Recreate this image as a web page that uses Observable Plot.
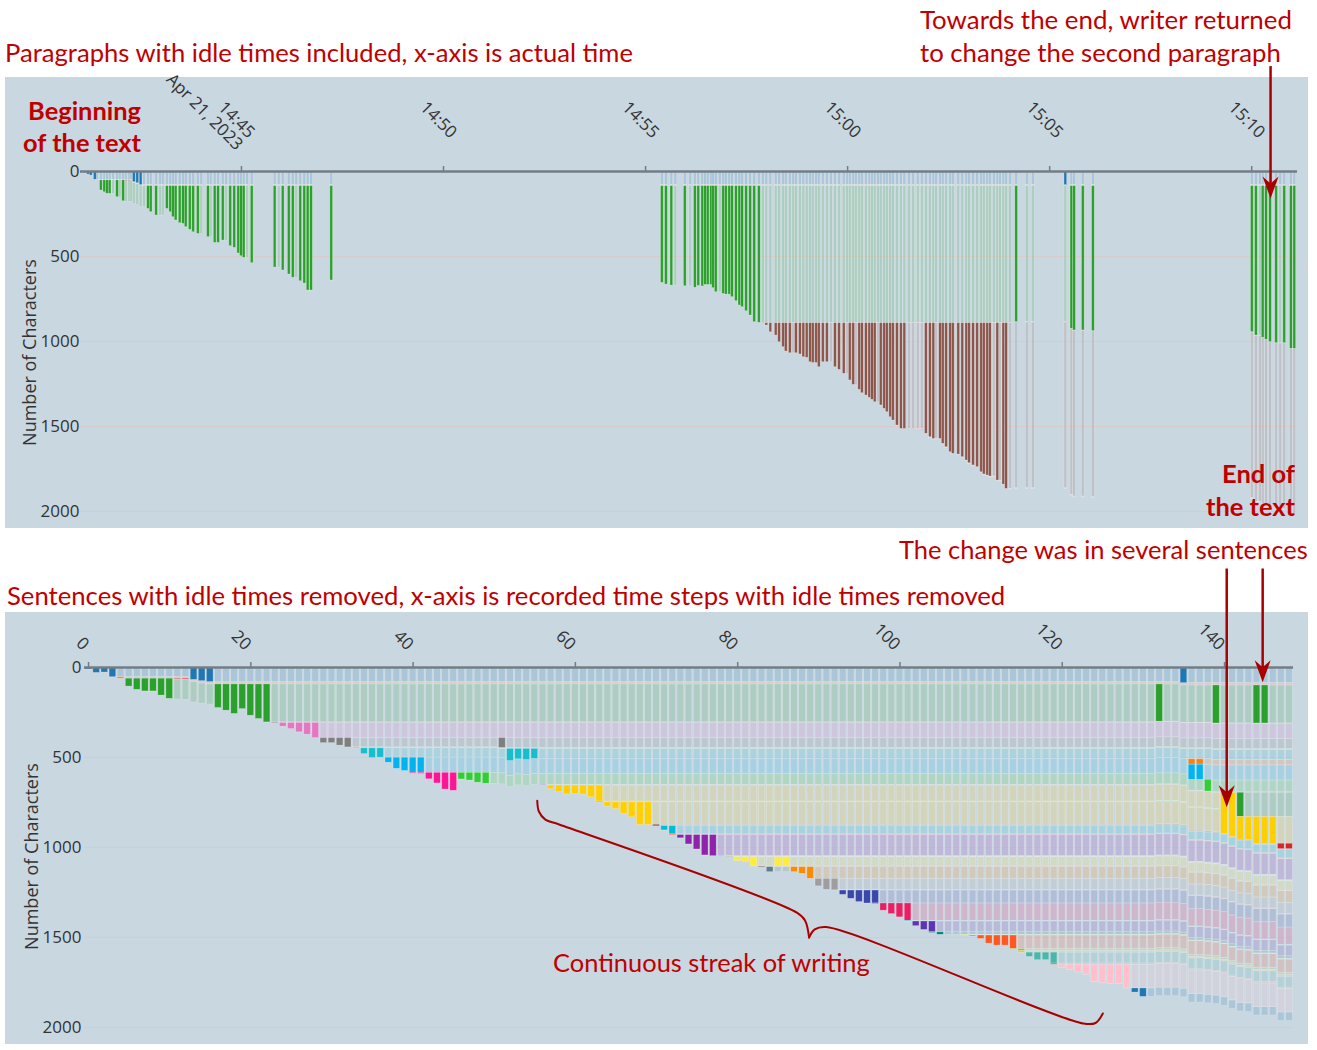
<!DOCTYPE html>
<html>
<head>
<meta charset="utf-8">
<script src="https://cdn.jsdelivr.net/npm/d3@7"></script>
<script src="https://cdn.jsdelivr.net/npm/@observablehq/plot@0.6"></script>
<style>
  body { margin: 0; background: #ffffff; }
  #page { position: relative; width: 1317px; height: 1050px; overflow: hidden; background: #fff; font-family: "Open Sans", sans-serif; }
  .panel { position: absolute; background: #c9d7e1; }
  .chart { position: absolute; }
  .chart svg { overflow: visible; }
  .note { position: absolute; color: #c00000; font-family: Lato, "Open Sans", sans-serif; font-size: 24px; line-height: 1.2; white-space: nowrap; }
  .note.b { font-weight: bold; }
</style>
</head>
<body>
<div id="page">
  <div class="panel" style="left:5px;top:77px;width:1303px;height:451px"></div>
  <div class="panel" style="left:5px;top:612px;width:1303px;height:432px"></div>
  <div class="chart" id="topChart" style="left:5px;top:77px;width:1303px"></div>
  <div class="chart" id="botChart" style="left:5px;top:612px;width:1303px"></div>

  <div class="note" data-x="5" data-cy="52" data-w="628">Paragraphs with idle times included, x-axis is actual time</div>
  <div class="note" data-x="920" data-cy="20" data-w="372">Towards the end, writer returned</div>
  <div class="note" data-x="920" data-cy="52" data-w="361">to change the second paragraph</div>
  <div class="note b" data-r="141" data-cy="110" data-w="113">Beginning</div>
  <div class="note b" data-r="141" data-cy="142" data-w="118">of the text</div>
  <div class="note b" data-r="1295" data-cy="473" data-w="73">End of</div>
  <div class="note b" data-r="1295" data-cy="506" data-w="89">the text</div>
  <div class="note" data-x="899" data-cy="549" data-w="409">The change was in several sentences</div>
  <div class="note" data-x="7" data-cy="595" data-w="999">Sentences with idle times removed, x-axis is recorded time steps with idle times removed</div>
  <div class="note" data-x="553" data-cy="962" data-w="317">Continuous streak of writing</div>
</div>

<script>
// ---------------- DATA ----------------
const yTicks = [0, 500, 1000, 1500, 2000];
const yLabel = "Number of Characters";

// Top panel: paragraphs (in text order) and their colours
const topBlockNames = ["title", "p-orange", "p-red", "paragraph 2", "p-purple", "paragraph 3", "p-pink", "p-gray"];
const topBlockColors = ["#1f77b4", "#ff7f0e", "#d62728", "#2ca02c", "#9467bd", "#8c564b", "#e377c2", "#7f7f7f"];

// Top panel x ticks
const topTickTimes = ["14:45", "14:50", "14:55", "15:00", "15:05", "15:10"];
const topTickLabels = ["14:45\nApr 21, 2023", "14:50", "14:55", "15:00", "15:05", "15:10"];
const topDomain = ["14:41:01", "15:11:08"];

// Top panel steps: [time, paragraph edited (null = no edit), paragraph length after the step]
const topSteps = [
  ["14:41:07",0,8],["14:41:13",0,18],["14:41:17",0,24],["14:41:23",0,49],["14:41:26",1,3],
  ["14:41:32",3,60],["14:41:37",3,70],["14:41:41",3,79],["14:41:45",3,79],["14:41:50",null,0],
  ["14:41:56",3,99],["14:42:00",null,0],["14:42:05",3,123],["14:42:09",2,3],["14:42:14",2,3],
  ["14:42:17",null,0],["14:42:21",0,63],["14:42:26",0,69],["14:42:31",0,80],["14:42:36",null,0],
  ["14:42:42",3,134],["14:42:46",3,153],["14:42:54",3,173],["14:43:00",null,0],["14:43:04",null,0],
  ["14:43:10",3,134],["14:43:15",3,153],["14:43:19",3,183],["14:43:23",3,202],["14:43:29",3,218],
  ["14:43:34",3,222],["14:43:38",3,241],["14:43:44",3,257],["14:43:49",3,271],["14:43:56",3,281],
  ["14:44:01",null,0],["14:44:11",3,300],["14:44:15",null,0],["14:44:21",3,334],["14:44:26",3,334],
  ["14:44:33",3,320],["14:44:38",null,0],["14:44:44",3,353],["14:44:50",3,363],["14:44:56",3,396],
  ["14:45:00",3,412],["14:45:04",3,422],["14:45:09",null,0],["14:45:16",3,453],
  ["14:45:50",3,479],["14:45:56",null,0],["14:46:02",3,496],["14:46:11",3,520],["14:46:17",3,539],
  ["14:46:22",null,0],["14:46:28",3,559],["14:46:34",3,573],["14:46:39",3,614],["14:46:44",3,614],
  ["14:47:14",3,555],
  ["14:55:25",3,569],["14:55:31",3,579],["14:55:39",3,585],["14:55:45",null,0],["14:55:59",3,589],
  ["14:56:07",null,0],["14:56:14",3,598],["14:56:19",3,587],["14:56:25",3,590],["14:56:29",3,581],
  ["14:56:33",3,581],["14:56:38",3,581],["14:56:41",3,600],["14:56:45",3,624],["14:56:51",null,0],
  ["14:56:56",3,634],["14:57:00",3,638],["14:57:05",3,638],["14:57:09",3,653],["14:57:15",3,677],
  ["14:57:20",3,702],["14:57:24",3,712],["14:57:30",3,736],["14:57:36",3,761],["14:57:42",3,800],
  ["14:57:49",3,804],
  ["14:57:55",4,2],["14:58:00",5,14],["14:58:06",5,53],["14:58:14",5,73],["14:58:19",5,112],
  ["14:58:25",5,141],["14:58:29",5,167],["14:58:35",5,177],["14:58:40",null,0],["14:58:44",5,177],
  ["14:58:50",5,184],["14:58:55",5,200],["14:59:00",5,204],["14:59:05",5,230],["14:59:09",5,234],
  ["14:59:14",5,234],["14:59:18",5,259],["14:59:24",5,230],["14:59:30",5,230],["14:59:36",null,0],
  ["14:59:42",5,259],["14:59:48",5,275],["14:59:55",5,298],["15:00:00",null,0],["15:00:04",5,337],
  ["15:00:09",5,363],["15:00:13",null,0],["15:00:18",5,392],["15:00:22",5,412],["15:00:28",5,426],
  ["15:00:33",5,439],["15:00:37",5,451],["15:00:41",5,465],["15:00:46",null,0],["15:00:50",5,484],
  ["15:00:55",5,504],["15:00:59",5,524],["15:01:04",5,553],["15:01:08",5,573],["15:01:14",5,602],
  ["15:01:20",5,622],["15:01:25",5,622],["15:01:32",null,0],["15:01:38",null,0],["15:01:45",6,3],
  ["15:01:51",7,3],["15:01:57",5,651],["15:02:03",5,671],["15:02:08",5,681],["15:02:12",null,0],
  ["15:02:18",5,681],["15:02:22",5,710],["15:02:27",5,730],["15:02:33",5,759],["15:02:37",5,769],
  ["15:02:45",5,773],["15:02:51",5,788],["15:02:57",5,808],["15:03:01",5,824],["15:03:07",5,837],
  ["15:03:13",5,847],["15:03:19",5,877],["15:03:23",5,890],["15:03:28",5,896],["15:03:32",5,902],
  ["15:03:38",null,0],["15:03:43",5,926],["15:03:47",null,0],["15:03:52",5,950],["15:03:56",5,975],
  ["15:04:02",null,0],["15:04:11",3,800],["15:04:27",null,0],["15:04:36",null,0],
  ["15:05:24",0,80],["15:05:33",3,839],["15:05:37",3,849],["15:05:50",3,849],["15:06:05",3,853],
  ["15:10:01",3,859],["15:10:07",3,879],["15:10:13",null,0],["15:10:17",3,892],["15:10:22",3,904],
  ["15:10:28",3,918],["15:10:37",3,924],["15:10:43",null,0],["15:10:49",3,924],["15:10:59",3,957],
  ["15:11:04",3,957]
];

// Bottom panel: sentences (in text order) and colours
const botSentenceColors = [
  "#1f77b4", "#ff7f0e", "#d62728", "#2ca02c", "#8c564b", "#e377c2", "#7f7f7f", "#bcbd22",
  "#17becf", "#ff7f0e", "#00b4f0", "#ff1493", "#32cd32", "#9467bd", "#2ca02c", "#ffd000",
  "#d62728", "#00e676", "#ffd000", "#7b0000", "#00bcd4", "#f4511e", "#8e24aa", "#42a5f5",
  "#4caf50", "#ffeb3b", "#5d4037", "#607d8b", "#fb8c00", "#9e9e9e", "#f44336", "#3949ab",
  "#e91e63", "#00bcd4", "#5e35b1", "#00897b", "#cddc39", "#ff5722", "#8bc34a", "#ffc107",
  "#4db6ac", "#f44336", "#ffc0cb", "#1f77b4"
];
const botTicks = [0, 20, 40, 60, 80, 100, 120, 140];
const botDomain = [-0.5, 148.5];

// Bottom panel steps (index = recorded step): list of [sentence edited, sentence length after the step]
const botSteps = [
  [[0,11]],[[0,30]],[[0,28]],[[0,54]],[[1,8]],[[3,44]],[[3,62]],[[3,71]],[[3,71]],[[3,94]],
  [[3,112]],[[2,4]],[[2,5]],[[0,69]],[[0,76]],[[0,81]],[[3,131]],[[3,146]],[[3,164]],[[3,137]],
  [[3,174]],[[3,192]],[[3,211]],[[4,3]],[[5,21]],[[5,34]],[[5,52]],[[5,65]],[[5,84]],[[6,28]],
  [[6,28]],[[6,42]],[[6,52]],[[7,5]],[[8,32]],[[8,54]],[[8,52]],[[10,28]],[[10,62]],[[10,74]],
  [[10,84],[11,5]],[[10,84],[11,6]],[[11,36]],[[11,59]],[[11,93]],[[11,100]],[[11,0],[12,37]],[[12,43]],[[12,55]],[[12,61]],
  [],[[6,55]],[[8,68]],[[8,58]],[[8,62]],[[8,56]],[[13,3]],[[15,20]],[[15,37]],[[15,50]],
  [[15,48]],[[15,50]],[[15,65]],[[15,89],[17,4]],[[18,24]],[[18,37]],[[18,65]],[[18,83]],[[18,126]],[[18,126]],
  [[19,6]],[[20,24]],[[20,46],[21,4]],[[22,18]],[[22,52]],[[22,80]],[[22,113]],[[22,117]],[[23,3]],[[24,3]],
  [[25,21]],[[25,24]],[[25,52]],[[26,3]],[[27,28]],[[25,52]],[[25,52]],[[27,0],[28,28]],[[28,37]],[[28,65]],
  [[29,42]],[[29,61]],[[29,61],[30,4]],[[31,24]],[[31,46]],[[31,64]],[[31,72]],[[31,72],[32,4]],[[32,40]],[[32,59]],
  [[32,77]],[[32,96],[33,4]],[[34,26]],[[34,47]],[[34,60],[35,4]],[[35,14]],[],[],[[36,4]],[[37,5]],
  [[37,19]],[[37,45]],[[37,56]],[[37,56]],[[37,75],[38,4]],[[38,12],[39,8]],[[40,24]],[[40,42]],[[40,42]],[[40,61],[41,6]],
  [[42,19]],[[42,28]],[[42,43]],[[42,56]],[[42,95]],[[42,102]],[[42,108]],[[42,108]],[[42,132]],[[43,23]],
  [[43,47]],[],[[3,207]],[],[],[[0,87]],[[9,30],[10,84]],[[9,30],[10,84]],[[12,65]],[[3,211]],
  [[15,228],[17,0],[18,0]],[[15,246]],[[14,134],[15,126]],[[15,129]],[[3,211],[15,149]],[[3,211],[15,149]],[[15,149]],[[16,30]],[[16,30]]
];

// Annotations (data coordinates): arrows from above the panel down to their tip
const annoColor = "#a80000";
const topArrows = [{time: "15:10:28", from: -620, to: 159}];
const botArrows = [{step: 140.27, from: -550, to: 776}, {step: 144.7, from: -550, to: 82}];
const braceLeft  = [[55.3,740],[55.5,800],[56.3,845],[58.0,872],[87.3,1362],[88.3,1405],[88.8,1500]];
const braceRight = [[88.8,1500],[89.5,1455],[90.9,1442],[122.6,1978],[124.1,1975],[125.0,1922]];

// ---------------- BUILD ----------------
(function () {
const T = s => new Date(`2023-04-21T${s.length === 5 ? s + ":00" : s}Z`);

function buildStacks(rows, nBlocks, colors) {
  const len = new Array(nBlocks).fill(0);
  const faded = [], solid = [];
  rows.forEach(r => {
    for (const [b, l] of r.changes) len[b] = l;
    let off = 0;
    const offs = [];
    for (let b = 0; b < nBlocks; b++) {
      offs[b] = off;
      if (len[b] > 0) faded.push({key: r.key, y1: off, y2: off + len[b], color: colors[b]});
      off += len[b];
    }
    for (const [b, l] of r.changes) if (l > 0) solid.push({key: r.key, y1: offs[b], y2: offs[b] + l, color: colors[b]});
  });
  return {faded, solid};
}

const topRows = topSteps.map(([t, b, l]) => ({key: T(t), changes: b == null ? [] : [[b, l]]}));
const topStack = buildStacks(topRows, topBlockNames.length, topBlockColors);
const botRows = botSteps.map((c, i) => ({key: i, changes: c}));
const botStack = buildStacks(botRows, botSentenceColors.length, botSentenceColors);

const axisFont = "Open Sans";
const tickFont = 17;
const fadedOpts = {fillOpacity: 0.17, stroke: "#ffffff", strokeOpacity: 0.3, strokeWidth: 0.6};
const solidOpts = {stroke: "#eef2f5", strokeOpacity: 0.45, strokeWidth: 0.6};

// notched arrowhead pointing down, tip at the anchor point
const arrowHead = {
  draw(ctx) {
    ctx.moveTo(0, 0);
    ctx.lineTo(-8, -22);
    ctx.lineTo(0, -15);
    ctx.lineTo(8, -22);
    ctx.closePath();
  }
};
const headOpts = {symbol: arrowHead, r: 8, fill: annoColor, stroke: "none"};

const HALF = 2000; // ms half-width of a top bar
const topX1 = d => new Date(+d.key - HALF), topX2 = d => new Date(+d.key + HALF);

const topPlot = Plot.plot({
  width: 1303, height: 451,
  marginTop: 94, marginBottom: 17, marginLeft: 75, marginRight: 11,
  style: {background: "transparent", overflow: "visible", fontFamily: axisFont, fontSize: "16px", color: "#333"},
  x: {type: "utc", domain: topDomain.map(T)},
  y: {domain: [0, 2000], reverse: true},
  color: {type: "identity"},
  marks: [
    Plot.gridY(yTicks.slice(1), {stroke: "#d9cbcc", strokeOpacity: 1}),
    Plot.rect(topStack.faded, {x1: topX1, x2: topX2, y1: "y1", y2: "y2", fill: "color", ...fadedOpts}),
    Plot.rect(topStack.solid, {x1: topX1, x2: topX2, y1: "y1", y2: "y2", fill: "color", ...solidOpts}),
    Plot.ruleY([0], {stroke: "#737d86", strokeWidth: 2.5}),
    Plot.axisX({anchor: "top", ticks: topTickTimes.map(T), tickSize: 6, stroke: "#737d86", strokeWidth: 1.5, tickFormat: () => "", label: null}),
    Plot.text(topTickTimes.map(T), {x: d => d, text: (d, i) => topTickLabels[i], frameAnchor: "top", rotate: 45, textAnchor: "end", lineAnchor: "top", dx: 15, dy: -41, fontSize: tickFont, fill: "#333"}),
    Plot.axisY({ticks: yTicks, tickSize: 0, tickPadding: 1, tickFormat: d => String(d), label: null, fontSize: tickFont}),
    Plot.text([yLabel], {frameAnchor: "left", textAnchor: "middle", rotate: -90, dx: -50, dy: 11, fontSize: 18, fill: "#333"}),
    Plot.link(topArrows, {x1: d => T(d.time), x2: d => T(d.time), y1: "from", y2: d => d.to - 70, stroke: annoColor, strokeWidth: 2.5}),
    Plot.dot(topArrows, {x: d => T(d.time), y: "to", ...headOpts})
  ]
});
document.getElementById("topChart").appendChild(topPlot);

const botX1 = d => d.key - 0.41, botX2 = d => d.key + 0.41;
const braceData = [...braceLeft.map(p => ({s: p[0], c: p[1], part: "a"})), ...braceRight.map(p => ({s: p[0], c: p[1], part: "b"}))];

const botPlot = Plot.plot({
  width: 1303, height: 438,
  marginTop: 55, marginBottom: 23, marginLeft: 79, marginRight: 15,
  style: {background: "transparent", overflow: "visible", fontFamily: axisFont, fontSize: "16px", color: "#333"},
  x: {domain: botDomain},
  y: {domain: [0, 2000], reverse: true},
  color: {type: "identity"},
  marks: [
    Plot.gridY(yTicks.slice(1), {stroke: "#d9cbcc", strokeOpacity: 1}),
    Plot.rect(botStack.faded, {x1: botX1, x2: botX2, y1: "y1", y2: "y2", fill: "color", ...fadedOpts}),
    Plot.rect(botStack.solid, {x1: botX1, x2: botX2, y1: "y1", y2: "y2", fill: "color", ...solidOpts}),
    Plot.ruleY([0], {stroke: "#737d86", strokeWidth: 2.5}),
    Plot.axisX({anchor: "top", ticks: botTicks, tickSize: 6, stroke: "#737d86", strokeWidth: 1.5, tickFormat: () => "", label: null}),
    Plot.text(botTicks, {x: d => d, text: d => String(d), frameAnchor: "top", rotate: 45, textAnchor: "end", lineAnchor: "top", dx: 2, dy: -25, fontSize: tickFont, fill: "#333"}),
    Plot.axisY({ticks: yTicks, tickSize: 0, tickPadding: 3, tickFormat: d => String(d), label: null, fontSize: tickFont}),
    Plot.text([yLabel], {frameAnchor: "left", textAnchor: "middle", rotate: -90, dx: -52, dy: 9, fontSize: 18, fill: "#333"}),
    Plot.line(braceData, {x: "s", y: "c", z: "part", curve: "catmull-rom", stroke: annoColor, strokeWidth: 2}),
    Plot.link(botArrows, {x1: "step", x2: "step", y1: "from", y2: d => d.to - 70, stroke: annoColor, strokeWidth: 2.5}),
    Plot.dot(botArrows, {x: "step", y: "to", ...headOpts})
  ]
});
document.getElementById("botChart").appendChild(botPlot);

// Fit annotation texts to their measured widths in the reference
document.querySelectorAll(".note").forEach(el => {
  const target = +el.dataset.w;
  const fs = parseFloat(getComputedStyle(el).fontSize);
  const w = el.getBoundingClientRect().width;
  el.style.fontSize = (fs * target / w) + "px";
  const h = el.getBoundingClientRect().height;
  el.style.top = (+el.dataset.cy - h / 2) + "px";
  if (el.dataset.r) el.style.left = (+el.dataset.r - el.getBoundingClientRect().width) + "px";
  else el.style.left = el.dataset.x + "px";
});
})();
</script>
</body>
</html>
